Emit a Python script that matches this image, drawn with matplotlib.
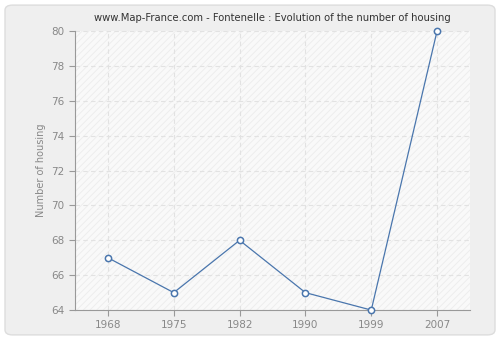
import matplotlib
matplotlib.use("Agg")
import matplotlib.pyplot as plt
from matplotlib.patches import FancyBboxPatch, Rectangle

years = ["1968", "1975", "1982", "1990", "1999", "2007"]
housing = [67, 65, 68, 65, 64, 80]
y_ticks = [64, 66, 68, 70, 72, 74, 76, 78, 80]

fig = plt.figure(figsize=(5, 3.4), dpi=100)
fig.patch.set_facecolor("white")

# rounded grey frame behind everything
frame = FancyBboxPatch((0.01, 0.015), 0.98, 0.97, boxstyle="round,pad=0,rounding_size=0.015",
                       transform=fig.transFigure, facecolor="#efefef", edgecolor="#dddddd",
                       linewidth=1, zorder=-10)
fig.add_artist(frame)

ax = fig.add_axes([0.15, 0.088, 0.79, 0.821])
ax.set_facecolor("#f9f9f9")

# hatched background
plt.rcParams["hatch.linewidth"] = 0.6
hatch = Rectangle((0, 0), 1, 1, transform=ax.transAxes, facecolor="#f9f9f9",
                  edgecolor="#ececec", hatch="/////", linewidth=0, zorder=0)
ax.add_patch(hatch)

x = list(range(len(years)))
ax.plot(x, housing, color="#4a76ad", linewidth=0.9, marker="o", markersize=4.5,
        markerfacecolor="white", markeredgecolor="#4a76ad", markeredgewidth=1.1,
        zorder=3, clip_on=False)

ax.set_xlim(-0.5, len(years) - 0.5)
ax.set_ylim(64, 80)
ax.set_xticks(x)
ax.set_xticklabels(years)
ax.set_yticks(y_ticks)

ax.grid(True, color="#e2e2e2", linestyle=(0, (4, 3)), linewidth=0.8, zorder=1)
ax.set_axisbelow(True)

for side in ["top", "right"]:
    ax.spines[side].set_visible(False)
for side in ["left", "bottom"]:
    ax.spines[side].set_color("#999999")
ax.tick_params(colors="#999999", labelcolor="#888888", labelsize=7.5, length=4, width=0.8)

ax.set_ylabel("Number of housing", color="#888888", fontsize=7)
ax.set_title("www.Map-France.com - Fontenelle : Evolution of the number of housing",
             fontsize=7.2, color="#333333", pad=7)

fig.savefig("out.png", dpi=100, facecolor=fig.get_facecolor())
